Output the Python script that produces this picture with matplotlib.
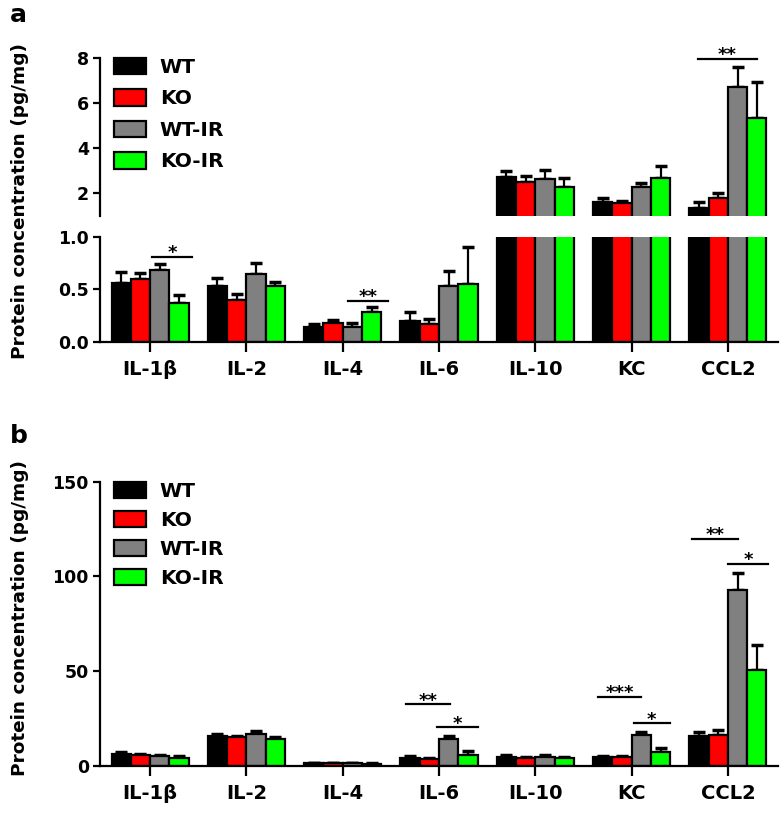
import numpy as np
import matplotlib
matplotlib.use("Agg")
import matplotlib.pyplot as plt
from matplotlib.patches import Patch

plt.rcParams['font.family'] = ['DejaVu Sans']
plt.rcParams['font.weight'] = 'bold'

cytokines = ['IL-1β', 'IL-2', 'IL-4', 'IL-6', 'IL-10', 'KC', 'CCL2']
groups = ['WT', 'KO', 'WT-IR', 'KO-IR']
colors = ['#000000', '#ff0000', '#808080', '#00ff00']

# panel a
a_wt = [0.56, 0.53, 0.14, 0.20, 2.71, 1.60, 1.36]
a_wt_err = [0.10, 0.08, 0.03, 0.08, 0.29, 0.20, 0.27]
a_ko = [0.60, 0.40, 0.175, 0.165, 2.52, 1.56, 1.78]
a_ko_err = [0.05, 0.05, 0.035, 0.05, 0.25, 0.11, 0.25]
a_wtir = [0.68, 0.64, 0.14, 0.53, 2.62, 2.30, 6.74]
a_wtir_err = [0.06, 0.11, 0.04, 0.14, 0.42, 0.17, 0.86]
a_koir = [0.37, 0.53, 0.28, 0.55, 2.30, 2.67, 5.33]
a_koir_err = [0.07, 0.04, 0.05, 0.35, 0.39, 0.54, 1.63]

# panel b
b_wt = [6.5, 16.0, 1.5, 4.3, 4.8, 4.5, 16.0]
b_wt_err = [0.8, 1.0, 0.3, 0.8, 0.8, 0.8, 2.0]
b_ko = [5.8, 15.3, 1.4, 3.8, 4.2, 4.5, 16.5]
b_ko_err = [0.7, 0.5, 0.3, 0.6, 0.6, 0.8, 2.5]
b_wtir = [5.2, 16.8, 1.4, 14.5, 4.8, 16.5, 93.0]
b_wtir_err = [0.8, 1.5, 0.3, 1.5, 0.8, 1.5, 9.0]
b_koir = [4.2, 14.2, 1.2, 5.8, 4.2, 7.5, 50.5]
b_koir_err = [0.9, 1.2, 0.3, 2.2, 0.5, 2.0, 13.5]

# significance marks: x start, x end, y, label
sig_a_low = [(0.02, 0.44, 0.81, '*'), (2.06, 2.47, 0.39, '**')]
sig_a_up = [(5.69, 6.30, 7.97, '**')]
sig_b = [(2.66, 3.11, 32.6, '**'), (2.98, 3.40, 20.4, '*'),
         (4.65, 5.10, 36.5, '***'), (5.02, 5.40, 22.5, '*'),
         (5.63, 6.10, 119.8, '**'), (6.00, 6.42, 106.7, '*')]

x = np.arange(len(cytokines))
width = 0.2
offsets = [-0.3, -0.1, 0.1, 0.3]
lw = 1.6


def draw_bars(ax, vals, errs, lo=None):
    for i in range(4):
        ax.bar(x + offsets[i], vals[i], width, color=colors[i],
               edgecolor='black', linewidth=lw, zorder=2)
        v = np.array(vals[i], dtype=float)
        e = np.array(errs[i], dtype=float)
        keep = np.ones(len(x), bool) if lo is None else v >= lo
        ax.errorbar((x + offsets[i])[keep], v[keep],
                    yerr=[np.zeros(keep.sum()), e[keep]], fmt='none',
                    ecolor='black', elinewidth=lw, capsize=4,
                    capthick=2.5, zorder=1)


def draw_sig(ax, marks):
    for x0, x1, y, lab in marks:
        ax.plot([x0, x1], [y, y], color='black', lw=1.6, clip_on=False)
        ax.annotate(lab, ((x0 + x1) / 2, y), xytext=(0, -1),
                    textcoords='offset points', ha='center',
                    va='baseline', fontsize=13, annotation_clip=False)


def style(ax):
    ax.spines['right'].set_visible(False)
    ax.spines['top'].set_visible(False)
    for s in ax.spines.values():
        s.set_linewidth(1.6)
    ax.tick_params(width=1.6, length=5, labelsize=12.5, pad=3)
    ax.set_xlim(-0.52, 6.52)


def legend(ax, y_top, spacing):
    handles = [Patch(facecolor=c, edgecolor='black', linewidth=lw) for c in colors]
    ax.legend(handles, groups, loc='upper left', bbox_to_anchor=(0.02, y_top),
              frameon=False, fontsize=14.5, handlelength=1.6, handleheight=0.85,
              handletextpad=0.7, labelspacing=spacing, borderpad=0, borderaxespad=0)


fig = plt.figure(figsize=(7.81, 8.13), dpi=100)
W, H = 781, 813
left = 100 / W
wid = 678 / W

a_vals = [a_wt, a_ko, a_wtir, a_koir]
a_errs = [a_wt_err, a_ko_err, a_wtir_err, a_koir_err]
b_vals = [b_wt, b_ko, b_wtir, b_koir]
b_errs = [b_wt_err, b_ko_err, b_wtir_err, b_koir_err]

# panel a, upper part of the broken axis
ax_up = fig.add_axes([left, 1 - 215.8 / H, wid, (215.8 - 42.6) / H])
draw_bars(ax_up, a_vals, a_errs, lo=1.0)
style(ax_up)
ax_up.spines['bottom'].set_visible(False)
ax_up.set_ylim(1, 8.7)
ax_up.spines['left'].set_bounds(1, 8)
ax_up.set_yticks([2, 4, 6, 8])
ax_up.set_xticks([])
draw_sig(ax_up, sig_a_up)
legend(ax_up, 1 - (58 - 42.6) / 173.2, 0.62)

# panel a, lower part
ax_lo = fig.add_axes([left, 1 - 341.7 / H, wid, (341.7 - 236.7) / H])
draw_bars(ax_lo, a_vals, a_errs)
style(ax_lo)
ax_lo.set_ylim(0, 1)
ax_lo.set_yticks([0, 0.5, 1.0])
ax_lo.set_yticklabels(['0.0', '0.5', '1.0'])
ax_lo.set_xticks(x)
ax_lo.set_xticklabels(cytokines, fontsize=14)
ax_lo.tick_params(axis='x', length=7, pad=6)
draw_sig(ax_lo, sig_a_low)

# panel b
ax_b = fig.add_axes([left, 1 - 766 / H, wid, (766 - 481.7) / H])
draw_bars(ax_b, b_vals, b_errs)
style(ax_b)
ax_b.set_ylim(0, 150)
ax_b.set_yticks([0, 50, 100, 150])
ax_b.set_xticks(x)
ax_b.set_xticklabels(cytokines, fontsize=14)
ax_b.tick_params(axis='x', length=7, pad=6)
draw_sig(ax_b, sig_b)
legend(ax_b, 1.0, 0.5)

fig.text(20 / W, 1 - 201 / H, 'Protein concentration (pg/mg)', rotation=90,
         ha='center', va='center', fontsize=13.3, fontweight='bold')
fig.text(20 / W, 1 - 618 / H, 'Protein concentration (pg/mg)', rotation=90,
         ha='center', va='center', fontsize=13.3, fontweight='bold')
fig.text(10 / W, 1 - 3 / H, 'a', ha='left', va='top', fontsize=18, fontweight='bold')
fig.text(10 / W, 1 - 424 / H, 'b', ha='left', va='top', fontsize=18, fontweight='bold')

fig.savefig('out.png', dpi=100)
